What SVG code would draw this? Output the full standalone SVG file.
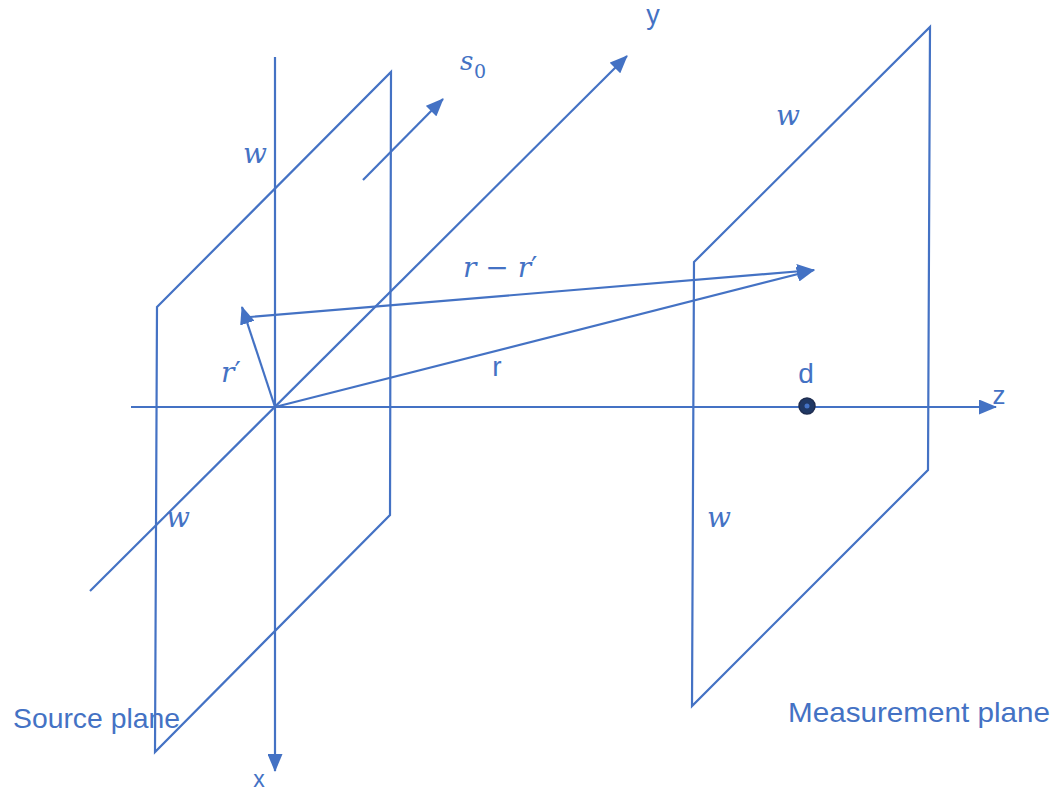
<svg xmlns="http://www.w3.org/2000/svg" width="1057" height="793" viewBox="0 0 1057 793">
<style>
.ln{fill:none;stroke:#4472C4;stroke-width:2.2;stroke-linejoin:miter}
.lbl{fill:#4472C4;font-family:"Liberation Sans",Arial,sans-serif}
.math{fill:#4472C4;font-family:"DejaVu Serif","Liberation Serif",serif;font-style:italic}
</style>
<defs>
<marker id="arr" viewBox="0 0 18 15" refX="17" refY="7.5" markerWidth="18" markerHeight="15" orient="auto" markerUnits="userSpaceOnUse">
<path d="M0,0 L18,7.5 L0,15 z" fill="#4472C4"/>
</marker>
</defs>
<rect width="1057" height="793" fill="#ffffff"/>
<g id="source-plane">
<polygon class="ln" points="157,307 391,72 390,515 155,752"/>
<text class="lbl" x="13" y="728" font-size="28" textLength="167" lengthAdjust="spacingAndGlyphs">Source plane</text>
</g>
<g id="measurement-plane">
<polygon class="ln" points="694,262 930,27 928,470 692,706"/>
<text class="lbl" x="788" y="722" font-size="28" textLength="262" lengthAdjust="spacingAndGlyphs">Measurement plane</text>
</g>
<g id="connectors">
<line class="ln" x1="275" y1="57" x2="275" y2="771" marker-end="url(#arr)"/>
<line class="ln" x1="131" y1="407" x2="996" y2="407" marker-end="url(#arr)"/>
<line class="ln" x1="90" y1="591" x2="627" y2="56" marker-end="url(#arr)"/>
<line class="ln" x1="363" y1="180" x2="443" y2="99" marker-end="url(#arr)"/>
<line class="ln" x1="275" y1="407" x2="242" y2="307" marker-end="url(#arr)"/>
<line class="ln" x1="275" y1="407" x2="814" y2="270" marker-end="url(#arr)"/>
<line class="ln" x1="250" y1="317" x2="814" y2="270" marker-end="url(#arr)"/>
</g>
<g id="point-d">
<circle cx="807" cy="406" r="8" fill="#203864" stroke="#1F2D50" stroke-width="1.5"/>
<circle cx="807" cy="406" r="2.5" fill="#4472C4"/>
<text class="lbl" x="806" y="383" font-size="28" text-anchor="middle">d</text>
</g>
<g id="labels">
<text class="lbl" x="259" y="787" font-size="23" text-anchor="middle">x</text>
<text class="lbl" x="653" y="24" font-size="27" text-anchor="middle">y</text>
<text class="lbl" x="999" y="404" font-size="26" text-anchor="middle">z</text>
<text class="math" x="460" y="70" font-size="26">s</text>
<text x="474" y="78" font-size="19" fill="#4472C4" font-family="DejaVu Serif,serif">0</text>
<text class="math" x="243" y="163" font-size="28">w</text>
<text class="math" x="776" y="125" font-size="28">w</text>
<text class="math" x="166" y="527" font-size="28">w</text>
<text class="math" x="707" y="527" font-size="28">w</text>
<text class="math" x="221" y="382" font-size="28">r<tspan font-style="normal">′</tspan></text>
<text class="math" x="463" y="277" font-size="28">r<tspan font-style="normal"> − </tspan>r<tspan font-style="normal">′</tspan></text>
<text class="lbl" x="497" y="376" font-size="28" text-anchor="middle">r</text>
</g>
</svg>
